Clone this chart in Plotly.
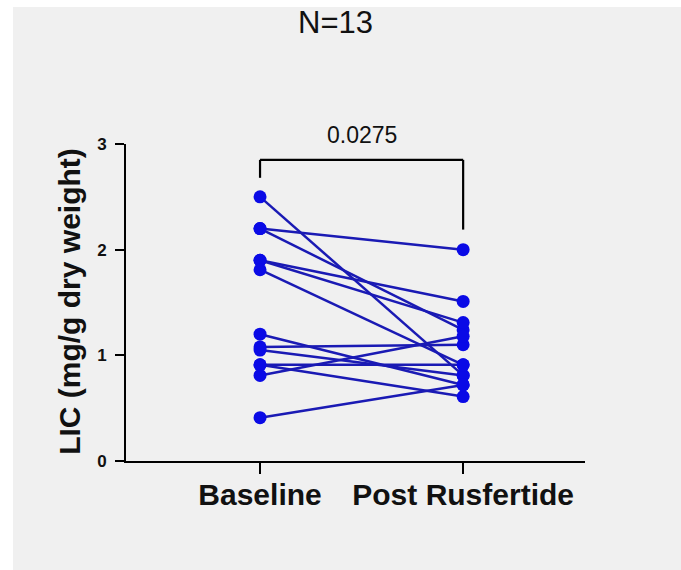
import plotly.graph_objects as go

categories = ["Baseline", "Post Rusfertide"]
baseline = [2.50, 2.20, 2.20, 1.90, 1.90, 1.81, 1.20, 1.08, 1.05, 0.91, 0.91, 0.81, 0.41]
post = [0.81, 2.00, 1.24, 1.51, 1.31, 0.91, 0.72, 1.10, 0.81, 0.91, 0.61, 1.18, 0.72]
y_ticks = [0, 1, 2, 3]
p_value = "0.0275"
title_text = "N=13"
y_title = "LIC (mg/g dry weight)"

LINE_C = "#1a1ab4"
MARK_C = "#0a0ae6"
FONT = "Liberation Sans, Arial, sans-serif"

fig = go.Figure()
for b, p in zip(baseline, post):
    fig.add_trace(go.Scatter(
        x=[0, 1], y=[b, p], mode="lines+markers",
        line=dict(color=LINE_C, width=2.5),
        marker=dict(color=MARK_C, size=13),
        cliponaxis=False, showlegend=False, hoverinfo="skip"))

# significance bracket
br_top, br_left, br_right = 2.85, 2.68, 2.19
fig.add_shape(type="line", xref="x", yref="y", x0=0, x1=1, y0=br_top, y1=br_top,
              line=dict(color="black", width=2.2))
fig.add_shape(type="line", xref="x", yref="y", x0=0, x1=0, y0=br_left, y1=br_top,
              line=dict(color="black", width=2.2))
fig.add_shape(type="line", xref="x", yref="y", x0=1, x1=1, y0=br_right, y1=br_top,
              line=dict(color="black", width=2.2))
fig.add_annotation(x=0.5, y=1.028, xref="x", yref="paper", text=p_value, showarrow=False,
                   xanchor="center", yanchor="middle",
                   font=dict(family=FONT, size=23, color="#111"))

# thin white strips on the left and top edges
fig.add_shape(type="rect", xref="paper", yref="paper", x0=-0.30, x1=-0.2462, y0=-0.5, y1=1.6,
              fillcolor="white", line=dict(width=0), layer="below")
fig.add_shape(type="rect", xref="paper", yref="paper", x0=-0.30, x1=1.3, y0=1.432, y1=1.6,
              fillcolor="white", line=dict(width=0), layer="below")

fig.add_annotation(x=0.4564, y=1.383, xref="paper", yref="paper", text=title_text,
                   showarrow=False, xanchor="center", yanchor="middle",
                   font=dict(family=FONT, size=31, color="#111"))
fig.add_annotation(x=-0.122, y=0.502, xref="paper", yref="paper", text="<b>%s</b>" % y_title,
                   textangle=-90, showarrow=False, xanchor="center", yanchor="middle",
                   font=dict(family=FONT, size=30, color="#111"))

fig.update_layout(
    width=681, height=570,
    margin=dict(l=126, r=96, t=144, b=109),
    paper_bgcolor="#f0f0f0", plot_bgcolor="rgba(0,0,0,0)",
    font=dict(family=FONT, color="#111"),
)
fig.update_xaxes(range=[-0.66, 1.60], tickvals=[0, 1],
                 ticktext=["<b>%s</b>" % c for c in categories],
                 showline=True, linecolor="black", linewidth=2,
                 ticks="outside", ticklen=11, tickwidth=2, tickcolor="black",
                 showgrid=False, zeroline=False, ticklabelstandoff=-5,
                 tickfont=dict(family=FONT, size=30, color="#111"))
fig.update_yaxes(range=[0, 3], tickvals=y_ticks,
                 ticktext=["<b>%d</b>" % v for v in y_ticks],
                 showline=True, linecolor="black", linewidth=2,
                 ticks="outside", ticklen=9, tickwidth=2, tickcolor="black",
                 showgrid=False, zeroline=False, ticklabelstandoff=5,
                 tickfont=dict(family=FONT, size=17, color="#111"))

fig.write_html("out.html", config={"displayModeBar": False},
               post_script="document.body.style.margin='0';document.body.style.overflow='hidden';")
